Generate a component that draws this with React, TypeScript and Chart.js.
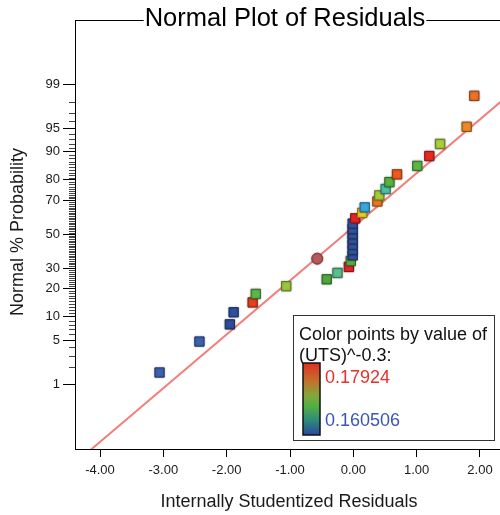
import React, { useEffect, useRef } from "react";
import { Chart, registerables } from "chart.js";

Chart.register(...registerables);

// ---- data ----
const residuals = [
  -3.06, -2.43, -1.95, -1.89, -1.59, -1.54, -1.06, -0.42, -0.25, -0.07, -0.04,
  -0.01, -0.01, -0.01, -0.01, -0.01, -0.01, -0.01,
  0.03, 0.14, 0.18, 0.38, 0.41, 0.51, 0.57, 0.69, 1.01, 1.2, 1.37, 1.79, 1.91,
];
const probabilities = [
  1.6, 4.8, 8.1, 11.3, 14.5, 17.7, 21.0, 24.2, 27.4, 30.6, 33.9,
  37.1, 40.3, 43.5, 46.8, 50.0, 53.2, 56.5,
  59.7, 62.9, 66.1, 69.4, 72.6, 75.8, 79.0, 82.3, 85.5, 88.7, 91.9, 95.2, 98.4,
];
const pointColors = [
  "#3d62b0", "#3d62b0", "#2d4c9a", "#2f509e", "#e8401e", "#5cb848", "#9ac63c",
  "#4ea83e", "#5cbf8c", "#e82228", "#5aae3c",
  "#3352a0", "#3352a0", "#3352a0", "#3352a0", "#3352a0", "#3352a0", "#3352a0",
  "#e82222", "#f2c81e", "#36a8e0", "#f07820", "#a8cc38", "#4cc0a8", "#58b440",
  "#f05a1e", "#5ab844", "#e82a24", "#a8d038", "#f08a28", "#f07024",
];
const highlightResidual = [-0.57];
const highlightProbability = [35.2];
const fitResidual = [-4.4, 2.4];
const fitProbability = [0.019, 98.27];
const xTickValues = [-4, -3, -2, -1, 0, 1, 2];
const yMajorTicks = [1, 5, 10, 20, 30, 50, 70, 80, 90, 95, 99];
const yAllTicks = Array.from({ length: 99 }, (_, i) => i + 1);

const legendTitle1 = "Color points by value of";
const legendTitle2 = "(UTS)^-0.3:";
const legendHigh = "0.17924";
const legendLow = "0.160506";

const FONT = "'Liberation Sans', Arial, Helvetica, sans-serif";

// inverse standard normal CDF (Acklam)
function probit(p: number): number {
  const a = [-3.969683028665376e1, 2.209460984245205e2, -2.759285104469687e2, 1.38357751867269e2, -3.066479806614716e1, 2.506628277459239];
  const b = [-5.447609879822406e1, 1.615858368580409e2, -1.556989798598866e2, 6.680131188771972e1, -1.328068155288572e1];
  const c = [-7.784894002430293e-3, -3.223964580411365e-1, -2.400758277161838, -2.549732539343734, 4.374664141464968, 2.938163982698783];
  const d = [7.784695709041462e-3, 3.224671290700398e-1, 2.445134137142996, 3.754408661907416];
  const plow = 0.02425;
  const phigh = 1 - plow;
  if (p < plow) {
    const q = Math.sqrt(-2 * Math.log(p));
    return (((((c[0] * q + c[1]) * q + c[2]) * q + c[3]) * q + c[4]) * q + c[5]) /
      ((((d[0] * q + d[1]) * q + d[2]) * q + d[3]) * q + 1);
  }
  if (p <= phigh) {
    const q = p - 0.5;
    const r = q * q;
    return ((((((a[0] * r + a[1]) * r + a[2]) * r + a[3]) * r + a[4]) * r + a[5]) * q) /
      (((((b[0] * r + b[1]) * r + b[2]) * r + b[3]) * r + b[4]) * r + 1);
  }
  const q = Math.sqrt(-2 * Math.log(1 - p));
  return -(((((c[0] * q + c[1]) * q + c[2]) * q + c[3]) * q + c[4]) * q + c[5]) /
    ((((d[0] * q + d[1]) * q + d[2]) * q + d[3]) * q + 1);
}

function darken(hex: string, f: number): string {
  const n = parseInt(hex.slice(1), 16);
  const r = Math.round(((n >> 16) & 255) * f);
  const g = Math.round(((n >> 8) & 255) * f);
  const b = Math.round((n & 255) * f);
  return `rgb(${r},${g},${b})`;
}

const majorSet = new Set(yMajorTicks);

const shadowPlugin = {
  id: "pointShadow",
  beforeDatasetDraw(chart: any, args: any) {
    const ds = chart.data.datasets[args.index];
    chart.ctx.save();
    if (ds.type !== "line") {
      chart.ctx.shadowColor = "rgba(0,0,0,0.35)";
      chart.ctx.shadowBlur = 2;
    }
  },
  afterDatasetDraw(chart: any) {
    chart.ctx.restore();
  },
};

const decorPlugin = {
  id: "decor",
  afterDraw(chart: any) {
    const ctx = chart.ctx as CanvasRenderingContext2D;
    const area = chart.chartArea;
    const yScale = chart.scales.y;
    ctx.save();

    // minor ticks on the probability axis
    ctx.strokeStyle = "#444";
    ctx.lineWidth = 1;
    ctx.beginPath();
    for (const p of yAllTicks) {
      if (majorSet.has(p)) continue;
      const y = Math.round(yScale.getPixelForValue(probit(p / 100))) + 0.5;
      ctx.moveTo(area.left - 6, y);
      ctx.lineTo(area.left, y);
    }
    ctx.stroke();

    // title with top frame line
    const title = "Normal Plot of Residuals";
    ctx.font = `25.5px ${FONT}`;
    const tw = ctx.measureText(title).width;
    const cx = 285;
    ctx.fillStyle = "#000";
    ctx.textAlign = "center";
    ctx.textBaseline = "alphabetic";
    ctx.fillText(title, cx, 26);
    ctx.strokeStyle = "#000";
    ctx.beginPath();
    const ty = Math.round(area.top) + 0.5;
    ctx.moveTo(area.left, ty);
    ctx.lineTo(cx - tw / 2 - 1, ty);
    ctx.moveTo(cx + tw / 2 + 1, ty);
    ctx.lineTo(area.right, ty);
    ctx.stroke();

    // axis titles
    ctx.font = `18px ${FONT}`;
    ctx.fillStyle = "#1a1a1a";
    ctx.textBaseline = "middle";
    ctx.fillText("Internally Studentized Residuals", 289, 502);
    ctx.save();
    ctx.translate(18, 232);
    ctx.rotate(-Math.PI / 2);
    ctx.fillText("Normal % Probability", 0, 0);
    ctx.restore();

    // color legend box
    ctx.fillStyle = "#fff";
    ctx.fillRect(293.5, 315.5, 201, 125);
    ctx.strokeStyle = "#333";
    ctx.lineWidth = 1;
    ctx.strokeRect(293.5, 315.5, 201, 125);
    ctx.textAlign = "left";
    ctx.textBaseline = "alphabetic";
    ctx.fillStyle = "#111";
    ctx.font = `18px ${FONT}`;
    ctx.fillText(legendTitle1, 299, 339.5);
    ctx.fillText(legendTitle2, 299, 361);
    const g = ctx.createLinearGradient(0, 363, 0, 435);
    g.addColorStop(0, "#e03022");
    g.addColorStop(0.25, "#c4702c");
    g.addColorStop(0.45, "#84a63a");
    g.addColorStop(0.6, "#52b044");
    g.addColorStop(0.8, "#2c8a7c");
    g.addColorStop(1, "#2a48a0");
    ctx.fillStyle = g;
    ctx.fillRect(303, 363, 17, 72);
    ctx.lineWidth = 1.5;
    ctx.strokeStyle = "#111";
    ctx.strokeRect(303, 363, 17, 72);
    ctx.fillStyle = "#e8302a";
    ctx.fillText(legendHigh, 325, 382.5);
    ctx.fillStyle = "#3a55b5";
    ctx.fillText(legendLow, 325, 425.5);

    ctx.restore();
  },
};

export default function App() {
  const canvasRef = useRef<HTMLCanvasElement | null>(null);

  useEffect(() => {
    const canvas = canvasRef.current;
    if (!canvas) return;

    const points = residuals.map((x, i) => ({ x, y: probit(probabilities[i] / 100) }));
    const highlight = highlightResidual.map((x, i) => ({ x, y: probit(highlightProbability[i] / 100) }));
    const fit = fitResidual.map((x, i) => ({ x, y: probit(fitProbability[i] / 100) }));

    const chart = new Chart(canvas, {
      type: "scatter",
      data: {
        datasets: [
          {
            type: "line",
            data: fit,
            borderColor: "#f27f7c",
            borderWidth: 2,
            pointRadius: 0,
            fill: false,
            order: 3,
          } as any,
          {
            type: "scatter",
            data: points,
            pointStyle: "rect",
            pointRadius: 6.6,
            backgroundColor: pointColors,
            borderColor: pointColors.map((c) => darken(c, 0.6)),
            borderWidth: 1,
            order: 2,
          } as any,
          {
            type: "scatter",
            data: highlight,
            pointStyle: "circle",
            pointRadius: 5.5,
            backgroundColor: "#b85a5a",
            borderColor: "#7a3434",
            borderWidth: 1,
            order: 1,
          } as any,
        ],
      },
      options: {
        animation: false,
        responsive: false,
        maintainAspectRatio: false,
        layout: { autoPadding: false, padding: { top: 20, right: 0, left: 0, bottom: 0 } },
        plugins: {
          legend: { display: false },
          tooltip: { enabled: false },
          title: { display: false },
        },
        scales: {
          x: {
            type: "linear",
            min: -4.395,
            max: 2.316,
            afterBuildTicks: (scale: any) => {
              scale.ticks = xTickValues.map((v) => ({ value: v }));
            },
            afterFit: (scale: any) => {
              scale.height = 66;
              scale.paddingLeft = 0;
              scale.paddingRight = 0;
            },
            grid: {
              drawOnChartArea: false,
              drawTicks: true,
              tickLength: 8,
              tickColor: "#000",
            },
            border: { display: true, color: "#000", width: 1 },
            ticks: {
              autoSkip: false,
              maxRotation: 0,
              padding: 6,
              color: "#1a1a1a",
              font: { family: FONT, size: 13 },
              callback: (v: any) => Number(v).toFixed(2),
            },
          },
          y: {
            type: "linear",
            min: -3.33,
            max: 3.32,
            afterBuildTicks: (scale: any) => {
              scale.ticks = yAllTicks.map((p) => ({ value: probit(p / 100) }));
            },
            afterFit: (scale: any) => {
              scale.width = 75;
              scale.paddingTop = 0;
              scale.paddingBottom = 0;
            },
            grid: {
              drawOnChartArea: false,
              drawTicks: true,
              tickLength: 12,
              tickColor: (c: any) => (majorSet.has(yAllTicks[c.index]) ? "#000" : "rgba(0,0,0,0)"),
            },
            border: { display: true, color: "#000", width: 1 },
            ticks: {
              autoSkip: false,
              padding: 3,
              color: "#1a1a1a",
              font: { family: FONT, size: 13 },
              callback: (_v: any, i: number) => (majorSet.has(yAllTicks[i]) ? String(yAllTicks[i]) : ""),
            },
          },
        },
      },
      plugins: [shadowPlugin, decorPlugin],
    });

    return () => chart.destroy();
  }, []);

  return (
    <div style={{ position: "fixed", left: 0, top: 0, width: 500, height: 515, background: "#fff" }}>
      <canvas ref={canvasRef} width={500} height={515} style={{ display: "block", width: 500, height: 515 }} />
    </div>
  );
}
